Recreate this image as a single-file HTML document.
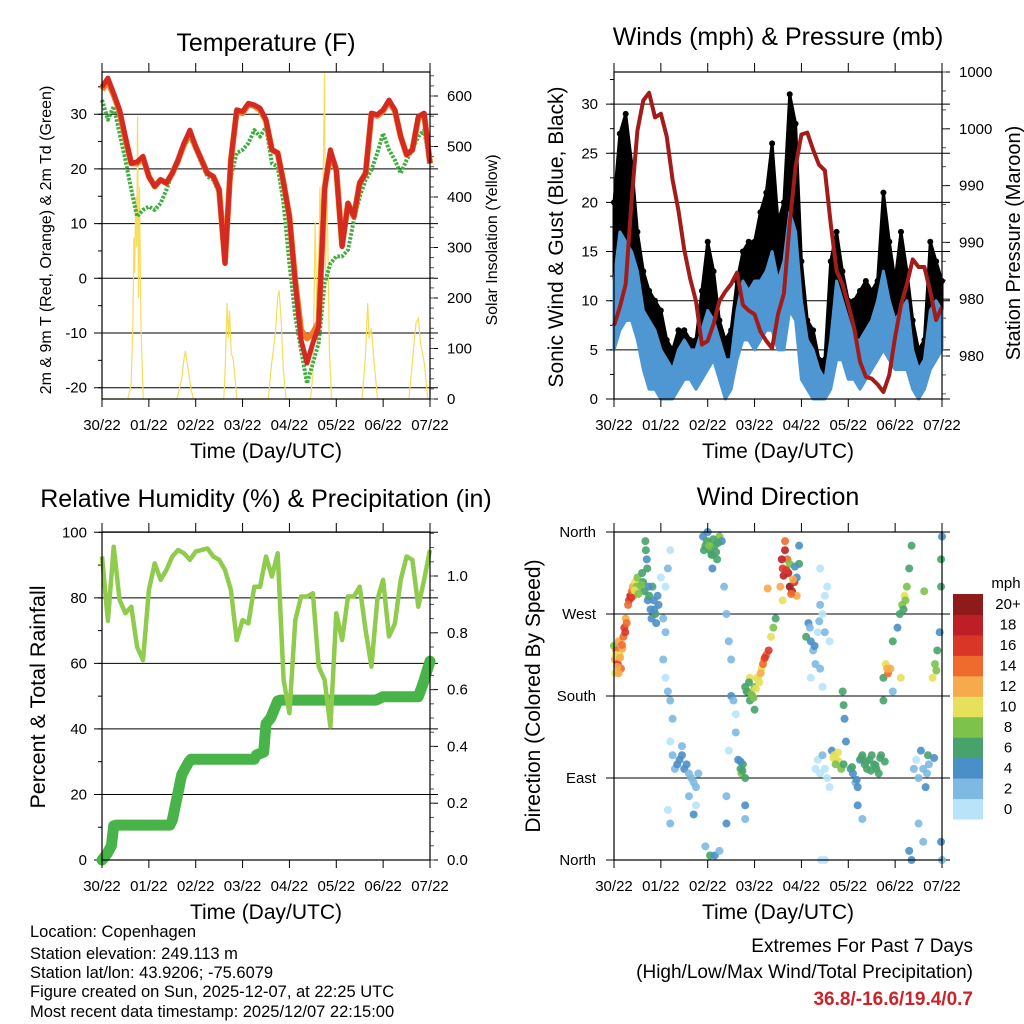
<!DOCTYPE html>
<html><head><meta charset="utf-8"><style>
html,body{margin:0;padding:0;background:#fff}
svg{display:block}
text{font-family:"Liberation Sans",sans-serif;fill:#000}
</style></head><body>
<svg id="chart" width="1024" height="1024" viewBox="0 0 1024 1024" xmlns="http://www.w3.org/2000/svg"></svg>
<script>
// ---------- data ----------
const dayLabels = ['30/22','01/22','02/22','03/22','04/22','05/22','06/22','07/22'];
const sampleStep = 0.125; // days between samples
const temp2m = [35,36.6,33.8,30.8,25.9,21,21.3,22.3,18.6,16.8,18,17.4,19.2,21.6,24.7,27.1,24.1,21.6,19.2,18.6,16.2,2.7,21.6,30.8,30.5,32,31.7,31.1,29,23.5,22.9,17.4,11.3,-0.9,-11.3,-15.5,-11.8,-8.8,16.2,23.5,19.8,5.8,13.7,11.3,17.4,19.2,30.2,29.9,30.8,32.6,30.8,25.9,22.6,23.5,29.6,30.2,21];
const temp9m = [34.5,36,33.5,30.5,25.5,21,21,22,18.6,16.8,18,17.4,19.2,21.6,24.5,26.5,24,21.6,19.2,18.6,16.2,3,21.6,30.5,30.2,31.8,31.5,30.8,28.8,23.5,22.9,17.4,11.3,-0.5,-9.5,-11,-10,-8,16.5,23,19.8,6,13.7,11.3,17.4,19.2,30,29.7,30.6,32.3,30.6,25.9,22.6,23.5,29.3,30,21];
const dew2m = [32.6,29,31.4,26.5,21.6,16.2,11.3,12.5,13.1,12.5,13.7,16.2,19.2,21,24.1,25.9,23.5,21,18.6,18,15.5,2.7,18.6,22.9,23.5,24.7,27.1,25.9,27.7,21,20.4,13.7,2.7,-7,-13.1,-19.2,-15.5,-11.8,-0.9,2.7,4,4,5.2,10.7,14.9,18,19.8,22.9,26.5,23.5,21.6,19.2,21.6,23.5,25.9,27.1,21];
const solarT = [0,0.55,0.62,0.66,0.68,0.7,0.72,0.74,0.76,0.78,0.8,0.83,0.88,1.6,1.7,1.75,1.78,1.82,1.9,1.95,2.6,2.63,2.67,2.7,2.72,2.76,2.8,2.88,3.55,3.62,3.7,3.75,3.78,3.82,3.87,3.93,4.45,4.5,4.55,4.6,4.65,4.7,4.75,4.77,4.8,4.85,4.9,5.55,5.62,5.67,5.7,5.75,5.8,5.88,6.55,6.62,6.7,6.75,6.8,6.88,6.95,7];
const solarV = [0,0,30,150,320,250,400,300,560,200,420,150,0,0,40,80,95,70,20,0,0,60,190,120,175,90,80,0,0,70,130,200,215,160,60,0,0,50,350,100,420,300,645,250,450,100,0,0,80,190,120,140,80,0,0,70,150,160,110,70,0,0];
const pressure = [986.6,987.6,988.8,993.2,996.9,998.5,998.9,997.6,997.8,996.6,994.3,992.7,990.6,989.1,987.9,985.6,985.8,986.7,987.9,988.4,988.8,989.4,987.7,987.4,987.2,986.3,985.8,985.4,987.2,988.3,992,995,996.7,996.8,995.9,995.1,994.8,992,989.5,988.8,987.7,986.5,984.7,983.9,983.8,983.5,983.1,984,986,987.7,988.8,990.1,989.7,989.7,988.4,986.9,987.6];
const windLo = [5,7,8,8,6,3,1,1,0,0,0,1,2,2,1,2,3,4,2,0,1,4,6,6,5,6,7,7,5,5,9,8,2,1,0,0,0,1,4,4,2,2,1,2,3,4,5,4,3,3,3,1,0,1,3,4,5];
const windHi = [12,17,16,15,13,9,8,7,5,4,3,5,6,5,5,7,9,8,6,4,4,9,12,11,12,12,13,15,12,14,19,17,10,6,5,3,2,6,12,10,8,6,6,7,8,10,13,10,8,9,10,5,3,4,9,10,9];
const gustLo = [8,14,15,14,10,8,6,5,3,2,2,3,4,4,3,5,7,6,4,3,4,7,10,9,9,10,12,10,10,9,13,11,4,2,2,1,1,4,7,6,5,5,6,7,7,8,9,7,6,8,6,3,1,2,6,7,8];
const gustHi = [20,27,29,24,17,13,11,10,9,6,5,7,7,6,6,11,16,13,8,6,7,12,15,16,16,19,21,26,18,20,31,28,14,8,7,4,4,14,17,13,10,10,11,12,11,12,21,16,12,17,13,8,5,6,16,14,12];
const rh = [92.6,73,95.6,79.3,75.3,77.3,65,61,82.4,90.5,85.5,88.5,92.6,94.6,93.6,91.6,94.1,94.6,95.1,92.6,91.6,88.5,82.4,67.1,73.2,72.2,83.4,83.4,92.6,86.5,93.6,55,44.8,73.2,80.4,80.4,81.4,59,55,40.7,75.3,67.1,80.4,80.4,83.4,70.2,59,79.3,85.5,68.2,72.2,85.5,92.6,91.6,77.3,85.5,94.6];
const precipT = [0,0.1,0.2,0.25,0.3,1.45,1.5,1.6,1.7,1.85,1.9,3.25,3.3,3.45,3.5,3.6,3.75,3.8,5.85,6.0,6.75,6.85,7.0];
const precipV = [0,0.02,0.05,0.12,0.123,0.123,0.14,0.22,0.30,0.345,0.355,0.355,0.37,0.38,0.48,0.5,0.56,0.563,0.563,0.575,0.575,0.62,0.70];
const dirT = [0,0.02,0.05,0.08,0.1,0.12,0.15,0.18,0.2,0.22,0.25,0.27,0.03,0.1,0.32,0.35,0.38,0.4,0.42,0.45,0.48,0.5,0.55,0.6,0.62,0.65,0.67,0.68,0.7,0.72,0.75,0.78,0.8,0.82,0.85,0.88,0.9,0.95,1.0,1.05,1.1,1.05,1.1,1.15,1.2,1.25,1.2,1.25,1.3,1.1,1.15,1.2,1.15,1.2,1.35,1.4,1.45,1.5,1.55,1.6,1.65,1.7,1.75,1.8,1.6,1.75,1.7,1.45,1.9,1.95,2.0,2.05,2.1,2.15,2.2,2.25,2.0,2.1,2.3,2.05,2.15,2.25,1.95,2.35,2.4,2.45,2.5,2.5,2.55,2.6,2.6,2.45,2.4,2.4,2.65,2.7,2.72,2.75,2.8,2.8,2.8,2.8,2.85,2.9,2.95,3.0,3.05,3.1,3.15,3.2,3.25,3.3,3.35,3.4,3.45,2.9,3.0,3.55,3.6,3.65,3.7,3.75,3.8,3.85,3.9,3.6,3.75,3.9,3.65,3.72,3.95,3.95,4.15,4.2,4.25,4.3,4.35,4.4,4.45,4.5,4.55,4.4,4.5,4.6,4.2,4.4,4.45,4.1,4.3,4.35,4.4,4.45,4.5,4.55,4.6,4.42,4.5,4.65,4.7,4.75,4.8,4.85,4.9,4.9,4.88,4.92,4.95,5.05,5.1,5.15,5.2,5.25,5.3,5.35,5.4,5.45,5.5,5.55,5.6,5.65,5.7,5.2,5.3,5.75,5.8,5.85,5.9,5.75,5.95,5.95,6.05,6.1,6.15,6.2,6.25,6.3,6.35,6.35,6.3,6.4,6.45,6.5,6.55,6.6,6.65,6.7,6.5,6.6,6.8,6.85,6.9,6.95,6.98,6.98,7.0,6.98,7.0,
  0.04,0.07,0.13,0.17,0.24,0.3,0.37,0.44,0.52,0.58,0.71,0.74,0.86,0.93,1.92,1.98,2.03,2.08,2.12,2.18,2.22,2.7,2.74,2.83,2.88,2.93,2.98,3.03,3.08,3.13,3.18,3.22,3.28,3.58,3.62,3.68,3.78,3.82,3.86,4.18,4.28,4.38,4.68,4.73,4.78,5.08,5.18,5.28,5.38,5.48,5.58,5.68,5.78,5.83,6.12,6.18,6.22,6.62,6.68,6.72,6.83,6.88];
const dirDeg = [235,220,230,215,240,225,210,232,245,255,265,260,205,205,285,290,295,300,290,305,300,310,300,315,305,295,350,340,330,285,290,275,265,300,285,270,260,280,310,265,250,220,200,185,175,155,130,115,100,300,320,340,55,40,105,110,115,100,105,95,90,85,80,95,70,60,50,125,355,345,350,340,335,345,330,355,360,320,350,5,5,10,15,300,270,240,220,180,175,160,140,120,70,40,110,100,95,105,90,60,45,190,185,175,180,190,200,195,210,220,225,230,245,255,265,200,165,300,320,340,330,300,295,305,290,285,325,310,350,315,345,325,260,240,230,215,250,280,270,290,300,320,250,240,200,210,190,245,100,110,95,115,100,90,80,0,0,120,115,110,108,100,105,170,185,155,130,100,95,85,80,110,115,105,100,110,115,105,100,95,115,60,45,200,215,205,210,175,185,240,255,270,280,290,300,320,345,0,10,100,110,90,120,100,80,115,40,20,200,215,230,250,300,330,355,20,0,
  225,212,222,236,250,280,288,296,292,302,320,300,275,290,340,350,345,335,352,338,348,108,98,185,195,182,178,188,198,205,215,222,298,330,312,318,292,308,322,255,235,262,112,105,118,102,88,112,108,98,104,112,108,210,200,275,285,295,95,105,112,208,222];
const dirSpd = [9,12,14,16,12,11,15,13,14,17,13,15,10,13,16,18,14,12,13,10,9,8,8,6,7,6,6,6,5,4,6,5,4,6,5,6,4,4,1,2,3,2,1,2,3,2,1,2,3,1,2,1,1,2,4,5,4,5,4,3,2,3,2,3,2,1,4,3,4,7,10,6,6,7,6,8,5,5,4,6,4,3,2,2,3,2,3,4,2,1,2,1,3,4,4,7,8,6,6,4,3,7,8,7,6,9,10,11,10,13,15,17,10,8,6,10,6,12,16,18,14,20,18,16,12,10,8,4,14,19,4,6,5,4,3,2,1,2,1,1,0,1,2,1,0,2,1,6,0,1,1,2,1,0,1,1,1,5,10,11,10,8,6,7,7,5,4,5,4,3,4,5,6,6,7,7,6,6,7,6,7,4,3,7,10,14,12,6,3,6,5,7,9,11,8,7,7,5,4,3,1,2,4,3,5,7,2,3,10,8,6,4,7,6,4,4,3,
  11,13,12,15,16,14,17,11,9,8,6,5,4,5,6,7,8,6,7,6,7,5,7,7,6,8,9,10,11,13,14,16,13,18,19,17,15,12,5,3,4,2,10,9,11,6,5,6,7,6,7,6,7,12,11,6,8,9,3,2,4,9,8];
const speedBins = ['0','2','4','6','8','10','12','14','16','18','20+'];
const speedColors = ['#b9e3f8','#7db9e3','#4b8fc7','#47a36b','#7dc24a','#e6e05a','#f6aa4b','#ef6b2d','#da3628','#be1f27','#8e1a1a'];

// ---------- helpers ----------
const svg = document.getElementById('chart');
const NS = 'http://www.w3.org/2000/svg';
const TICK = 15;
function mk(tag, attrs, parent){
  const e = document.createElementNS(NS, tag);
  for (const k in attrs) e.setAttribute(k, attrs[k]);
  (parent || svg).appendChild(e);
  return e;
}
function txt(s, x, y, size, anchor, parent, extra){
  const e = mk('text', Object.assign({x:x, y:y, 'font-size':size, 'text-anchor':anchor||'start'}, extra||{}), parent);
  e.textContent = s;
  return e;
}
function sampleTime(i){ return i*sampleStep; }
function linePath(ts, vs, X, Y){
  return ts.map((t,i)=>(i?'L':'M')+X(t).toFixed(1)+','+Y(vs[i]).toFixed(1)).join('');
}
function bandPath(los, his, X, Y){
  let d = '';
  his.forEach((v,i)=>{ d += (i?'L':'M')+X(sampleTime(i)).toFixed(1)+','+Y(v).toFixed(1); });
  for (let i=los.length-1;i>=0;i--) d += 'L'+X(sampleTime(i)).toFixed(1)+','+Y(los[i]).toFixed(1);
  return d+'Z';
}
function panel(name, P){
  const g = mk('g', {});
  
  
  P.X = t => P.x0 + t*(P.x1-P.x0)/7;
  return g;
}
function gridAndLeft(g, P, ticks, labels, Y, minors, labelX){
  const gg = mk('g', {}, g);
  
  
  ticks.forEach((v,i)=>{
    const y = Y(v);
    const l = mk('line', {x1:P.x0-8, x2:P.x1+8, y1:y, y2:y, stroke:'#000', 'stroke-width':1}, gg);
    
    
    const t = txt(labels[i], labelX, y+5, TICK, 'end', g);
    
    
  });
  minors.forEach(v=>{
    const y = Y(v);
    if (y < P.y0-0.5 || y > P.y1+0.5) return;
    mk('line', {x1:P.x0-4, x2:P.x0, y1:y, y2:y, stroke:'#000', 'stroke-width':1}, g);
  });
}
function rightAxis(g, P, ticks, labels, Y, minors){
  ticks.forEach((v,i)=>{
    const y = Y(v);
    mk('line', {x1:P.x1, x2:P.x1+8, y1:y, y2:y, stroke:'#000', 'stroke-width':1}, g);
    const t = txt(labels[i], P.x1+17, y+5, TICK, 'start', g);
    
    
  });
  minors.forEach(v=>{
    const y = Y(v);
    if (y < P.y0-0.5 || y > P.y1+0.5) return;
    mk('line', {x1:P.x1, x2:P.x1+4, y1:y, y2:y, stroke:'#555', 'stroke-width':1}, g);
  });
}
function frame(g, P, title, titleY){
  const r = mk('rect', {x:P.x0, y:P.y0, width:P.x1-P.x0, height:P.y1-P.y0, fill:'none', stroke:'#000', 'stroke-width':1.2}, g);
  
  
  dayLabels.forEach((s,i)=>{
    const x = P.X(i);
    mk('line', {x1:x, x2:x, y1:P.y0-9, y2:P.y0, stroke:'#000', 'stroke-width':1}, g);
    mk('line', {x1:x, x2:x, y1:P.y1, y2:P.y1+8, stroke:'#000', 'stroke-width':1}, g);
    const t = txt(s, x, P.y1+31, TICK, 'middle', g);
    
    
  });
  const xt = txt('Time (Day/UTC)', (P.x0+P.x1)/2, P.y1+59, 21, 'middle', g);
  
  
  const tt = txt(title, (P.x0+P.x1)/2, titleY, 25, 'middle', g);
  
  
}
function vtitle(g, s, x, y, size, name){
  const t = txt(s, x, y, size, 'middle', g, {transform:'rotate(-90 '+x+' '+y+')'});
  
  
}
function range(a,b,s){ const r=[]; for(let v=a; v<=b+1e-9; v+=s) r.push(v); return r; }
const sampleTimes = temp2m.map((_,i)=>sampleTime(i));

// ---------- Panel 1: Temperature ----------
{
  const P = {x0:102, x1:430, y0:72, y1:399};
  const g = panel('temperature-panel', P);
  const Y = v => 278.3 - v*5.47;
  const S = v => 399 - v*0.505;
  gridAndLeft(g, P, [30,20,10,0,-10,-20], ['30','20','10','0','-10','-20'], Y, range(-20,35,5), 87);
  rightAxis(g, P, [600,500,400,300,200,100,0], ['600','500','400','300','200','100','0'], S, range(0,640,20));
  const sol = mk('path', {d:linePath(solarT, solarV, P.X, S), fill:'none', stroke:'#f7dc5c', 'stroke-width':1.2}, g);
  
  
  const dw = mk('path', {d:linePath(sampleTimes, dew2m, P.X, Y), fill:'none', stroke:'#3fae3f', 'stroke-width':4, 'stroke-dasharray':'2.5 1.5', 'stroke-linejoin':'round'}, g);
  
  
  const o = mk('path', {d:linePath(sampleTimes, temp9m, P.X, Y), fill:'none', stroke:'#f47c22', 'stroke-width':6, 'stroke-linejoin':'round'}, g);
  
  
  const r = mk('path', {d:linePath(sampleTimes, temp2m, P.X, Y), fill:'none', stroke:'#d32a22', 'stroke-width':5, 'stroke-linejoin':'round'}, g);
  
  
  frame(g, P, 'Temperature (F)', 51);
  vtitle(g, '2m & 9m T (Red, Orange) & 2m Td (Green)', 51, 240, 16, 'y-axis-title');
  vtitle(g, 'Solar Insolation (Yellow)', 497, 240, 16, 'right-axis-title');
}

// ---------- Panel 2: Winds & Pressure ----------
{
  const P = {x0:614, x1:942, y0:72, y1:399};
  const g = panel('winds-pressure-panel', P);
  const Y = v => 399 - v*9.83;
  const PY = p => 72 + (1000-p)/3*56.8;
  gridAndLeft(g, P, [30,25,20,15,10,5,0], ['30','25','20','15','10','5','0'], Y, range(0,33,2.5), 598);
  rightAxis(g, P, [1000,997,994,991,988,985], ['1000','1000','990','990','980','980'], PY, range(982,1000,1));
  const gust = mk('path', {d:bandPath(gustLo, gustHi, P.X, Y), fill:'#000', stroke:'#000', 'stroke-width':3, 'stroke-linejoin':'round'}, g);
  
  
  gustHi.forEach((v,i)=>{
    const c = mk('circle', {cx:P.X(sampleTime(i)), cy:Y(v), r:3, fill:'#000'}, g);
    
    
  });
  const w = mk('path', {d:bandPath(windLo, windHi, P.X, Y), fill:'#4f97d3', stroke:'#4f97d3', 'stroke-width':3, 'stroke-linejoin':'round'}, g);
  
  
  const p = mk('path', {d:linePath(sampleTimes, pressure, P.X, PY), fill:'none', stroke:'#a31c1c', 'stroke-width':4, 'stroke-linejoin':'round'}, g);
  
  
  frame(g, P, 'Winds (mph) & Pressure (mb)', 45);
  vtitle(g, 'Sonic Wind & Gust (Blue, Black)', 563, 237, 21, 'y-axis-title');
  vtitle(g, 'Station Pressure (Maroon)', 1020, 243, 20, 'right-axis-title');
}

// ---------- Panel 3: RH & Precip ----------
{
  const P = {x0:102, x1:430, y0:532, y1:860};
  const g = panel('humidity-precip-panel', P);
  const Y = v => 860 - v*3.277;
  const PR = v => 860 - v*284;
  gridAndLeft(g, P, [100,80,60,40,20,0], ['100','80','60','40','20','0'], Y, range(0,100,10), 87);
  rightAxis(g, P, [1.0,0.8,0.6,0.4,0.2,0.0], ['1.0','0.8','0.6','0.4','0.2','0.0'], PR, range(0,1.15,0.05));
  const pr = mk('path', {d:linePath(precipT, precipV, P.X, PR), fill:'none', stroke:'#47b348', 'stroke-width':11, 'stroke-linejoin':'round', 'stroke-linecap':'round'}, g);
  
  
  const h = mk('path', {d:linePath(sampleTimes, rh, P.X, Y), fill:'none', stroke:'#8fcb4c', 'stroke-width':4.5, 'stroke-linejoin':'round'}, g);
  
  
  frame(g, P, 'Relative Humidity (%) & Precipitation (in)', 507);
  vtitle(g, 'Percent & Total Rainfall', 45, 697, 21.5, 'y-axis-title');
}

// ---------- Panel 4: Wind Direction ----------
{
  const P = {x0:614, x1:942, y0:532, y1:860};
  const g = panel('wind-direction-panel', P);
  const Y = d => 860 - d*328/360;
  gridAndLeft(g, P, [360,270,180,90,0], ['North','West','South','East','North'], Y, [], 596);
  dirT.forEach((t,i)=>{
    const bin = Math.min(10, Math.floor(dirSpd[i]/2));
    const c = mk('circle', {cx:P.X(t), cy:Y(dirDeg[i]), r:4, fill:speedColors[bin], 'fill-opacity':0.9}, g);
    
    
  });
  frame(g, P, 'Wind Direction', 505);
  vtitle(g, 'Direction (Colored By Speed)', 540, 696, 21, 'y-axis-title');
  const cb = mk('g', {}, g);
  
  
  const top = 594, bot = 819, h = (bot-top)/speedColors.length;
  speedColors.forEach((c,i)=>{
    const y = bot - (i+1)*h;
    const r = mk('rect', {x:953, y:y, width:30, height:h+0.5, fill:c}, cb);
    
    
    const t = txt(speedBins[i], 1008, y+h/2+5, 15, 'middle', cb);
    
    
  });
  const u = txt('mph', 1006, 588, 15, 'middle', cb);
  
  
}

// ---------- footer text ----------
{
  const g = mk('g', {});
  
  
  const lines = ['Location: Copenhagen','Station elevation: 249.113 m','Station lat/lon: 43.9206; -75.6079','Figure created on Sun, 2025-12-07, at 22:25 UTC','Most recent data timestamp: 2025/12/07 22:15:00'];
  const ys = [937,959,978,997,1017];
  lines.forEach((s,i)=>{
    const t = txt(s, 30, ys[i], 16.5, 'start', g);
    
    
  });
  const e = mk('g', {});
  
  
  const a = txt('Extremes For Past 7 Days', 973, 952, 19, 'end', e);
  
  
  const b = txt('(High/Low/Max Wind/Total Precipitation)', 973, 978, 19, 'end', e);
  
  
  const c = txt('36.8/-16.6/19.4/0.7', 973, 1005, 19, 'end', e, {'font-weight':'bold', style:'fill:#cc2229'});
  
  
}
</script>
</body></html>
